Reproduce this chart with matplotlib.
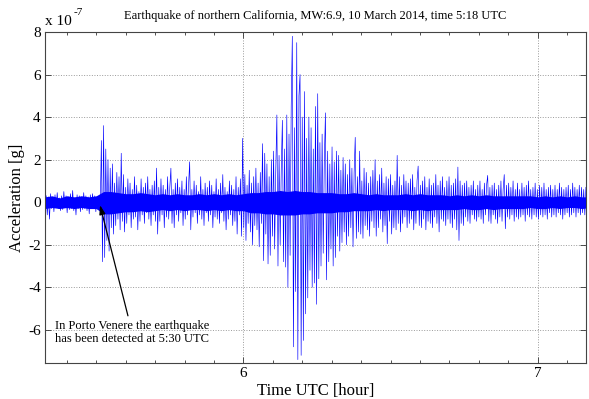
import numpy as np
import matplotlib
matplotlib.use("Agg")
import matplotlib.pyplot as plt
from matplotlib.ticker import MultipleLocator, FixedLocator

plt.rcParams['font.family'] = ['Liberation Serif', 'DejaVu Serif']

# ---- data (units of 1e-7 g) ----
t_start = 5.33       # hour UTC of first sample
t_step = 0.00375     # hours between samples

accel = [
    # quiet, before arrival
    0.3, -0.6, 0.25, -0.8, 0.4, -0.3, 0.2, -0.45, 0.35, -0.25,
    0.45, -0.3, 0.2, -0.4, 0.3, -0.35, 0.5, -0.25, 0.3, -0.5,
    0.25, -0.35, 0.4, -0.3, 0.55, -0.4, 0.2, -0.6, 0.35, -0.3,
    0.3, -0.45, 0.25, -0.35, 0.45, -0.3, 0.3, -0.4, 0.25, -0.55,
    0.35, -0.3, 0.4, -0.25, 0.3, -0.45, 0.25, -0.35, 0.3, -0.3,
    # first arrival (P)
    2.9, -2.8, 3.6, -2.6, 2.5, -1.8, 2.0, -2.3, 1.6, -1.2,
    1.8, -1.5, 0.9, -1.1, 1.4, -0.8, 1.2, -1.3, 2.3, -0.9,
    1.3, -1.4, 0.7, -1.0, 1.1, -0.6, 0.9, -1.2, 0.6, -0.8,
    1.2, -0.7, 0.8, -1.3, 0.5, -0.9, 1.1, -0.6, 0.7, -1.0,
    0.9, -0.5, 1.2, -0.8, 0.6, -1.1, 0.8, -0.6, 1.0, -0.9,
    1.6, -1.5, 0.7, -0.9, 1.1, -0.6, 0.8, -1.2, 0.6, -0.7,
    1.2, -0.8, 0.7, 1.6, -1.0, 0.6, -1.2, 0.9, -0.6, 1.1,
    -0.9, 0.7, -0.5, 1.0, -1.1, 0.6, -0.8, 1.2, -0.6, 0.8,
    1.9, -1.3, 0.6, -0.7, 1.0, -0.5, 0.8, -1.0, 0.5, -0.6,
    1.2, -0.8, 0.6, -1.1, 0.9, -0.5, 0.7, -0.9, 1.0, -0.6,
    0.8, -1.2, 0.5, -0.7, 1.1, -0.8, 0.6, -1.0, 0.9, -0.5,
    1.3, -0.9, 0.7, -1.3, 0.5, -0.8, 1.0, -0.6, 0.8, -1.1,
    0.6, -0.9, 1.2, -1.5, 0.7, -0.6, 1.1, -1.6, 3.0, -1.2,
    # surface waves
    1.3, -1.8, 0.8, -1.0, 1.5, -1.4, 0.9, -2.0, 1.2, -1.1,
    1.6, -1.3, 0.9, -2.1, 1.4, -1.0, 2.75, -2.75, 2.3, -1.5,
    1.8, -2.9, 1.2, -2.5, 2.0, -1.6, 2.4, -2.2, 1.5, 4.1,
    -3.0, 2.2, -2.0, 1.6, 3.85, -2.8, 2.5, -3.05, 4.1, -4.0,
    3.2, -2.5, 4.5, 7.8, -6.8, 3.5, -4.2, 7.5, -7.4, 5.0,
    6.0, -7.2, 4.0, -6.5, 5.2, -5.25, 3.0, -4.5, 4.0, -3.2,
    3.5, -4.0, 2.5, -3.8, 4.5, -4.8, 5.1, -3.6, 2.8, -3.0,
    3.2, -2.4, 2.0, 4.2, -3.65, 2.4, -2.8, 1.8, -2.2, 2.6,
    -3.0, 1.9, -2.6, 2.4, -1.6, 2.2, -2.3, 1.5, -1.9, 2.1,
    -1.4, 1.8, -2.0, 1.3, -1.6, 2.0, -1.2, 1.6, -2.1, 1.4,
    3.05, -1.7, 1.2, -1.4, 2.4, -1.5, 1.0, -1.7, 1.6, -1.1,
    1.4, -1.3, 0.9, -1.6, 1.2, -0.9, 1.5, -1.2, 2.0, -1.6,
    1.0, -1.2, 1.3, -0.8, 1.6, -1.4, 0.9, -1.1, 1.2, -1.95,
    1.1, -0.9, 1.3, -1.5, 0.8, -1.2, 1.0, -1.3, 2.2, -1.0,
    1.2, -1.4, 0.8, -1.0, 1.3, -0.7, 1.0, -1.2, 0.9, -1.0,
    1.1, -0.8, 1.3, -1.3, 0.7, -1.0, 1.0, 1.7, -1.1, 0.8,
    # coda
    -1.2, 1.0, -0.8, 1.2, -1.3, 0.7, -0.9, 1.1, -1.0, 0.8,
    -1.2, 0.9, -0.7, 1.3, -1.0, 0.8, -1.4, 1.0, -0.8, 1.2,
    -0.9, 0.7, -1.1, 1.0, -0.8, 1.2, -1.0, 0.8, -1.2, 0.9,
    -0.8, 1.1, -1.3, 1.65, -1.8, 1.0, -1.0, 0.8, -1.1, 0.9,
    -0.7, 1.0, -0.9, 0.7, -1.0, 0.8, -0.6, 1.0, -0.8, 0.6,
    -0.9, 0.8, -0.7, 1.0, -0.8, 0.6, -1.0, 0.9, -0.6, 0.8,
    1.26, -0.9, 0.7, -1.0, 0.8, -0.6, 0.9, -0.8, 0.6, -1.0,
    0.8, -0.7, 1.0, -0.9, 0.6, 1.3, -1.25, 0.8, -0.7, 0.9,
    -0.8, 0.7, -0.6, 1.0, -0.9, 0.6, -0.7, 0.9, -0.8, 0.6,
    -0.7, 0.9, -0.6, 0.7, -0.9, 0.8, -0.6, 1.0, -0.7, 0.6,
    -0.8, 0.7, -0.6, 0.9, -0.7, 0.6, -0.8, 0.8, -0.6, 0.7,
    -0.7, 0.9, -0.6, 0.6, -0.8, 0.7, -0.5, 0.8, -0.7, 0.6,
    -0.6, 0.8, -0.7, 0.6, -0.5, 0.9, -0.6, 0.7, -0.8, 0.6,
    -0.6, 0.7, -0.5, 0.8, -0.7, 0.6, -0.6, 0.9, -0.5, 0.7,
    -0.7, 0.6, -0.5, 0.8, -0.6, 0.7, -0.5, 0.6, -0.6, 0.7,
]

# dense (solid) band of the trace around zero: upper / lower limits
core_start = 5.325
core_step = 0.025
core_hi = [
    0.25, 0.3, 0.2, 0.3, 0.25,
    0.3, 0.25, 0.3, 0.5, 0.5,
    0.45, 0.4, 0.4, 0.45, 0.4,
    0.35, 0.4, 0.35, 0.4, 0.35,
    0.35, 0.4, 0.35, 0.4, 0.35,
    0.4, 0.35, 0.4, 0.45, 0.45,
    0.5, 0.5, 0.55, 0.5, 0.55,
    0.5, 0.5, 0.45, 0.45, 0.45,
    0.4, 0.4, 0.45, 0.4, 0.35,
    0.4, 0.35, 0.35, 0.35, 0.4,
    0.35, 0.4, 0.35, 0.35, 0.35,
    0.3, 0.35, 0.3, 0.35, 0.3,
    0.35, 0.3, 0.3, 0.3, 0.3,
    0.3, 0.3, 0.25, 0.3, 0.25,
    0.3, 0.25, 0.3, 0.25, 0.25,
]
core_lo = [
    -0.3, -0.25, -0.3, -0.25, -0.3,
    -0.25, -0.3, -0.3, -0.55, -0.55,
    -0.5, -0.45, -0.45, -0.4, -0.45,
    -0.4, -0.35, -0.4, -0.35, -0.4,
    -0.35, -0.35, -0.4, -0.35, -0.4,
    -0.35, -0.4, -0.4, -0.5, -0.5,
    -0.55, -0.55, -0.6, -0.6, -0.6,
    -0.55, -0.55, -0.5, -0.5, -0.5,
    -0.45, -0.45, -0.4, -0.4, -0.4,
    -0.35, -0.4, -0.35, -0.35, -0.35,
    -0.4, -0.35, -0.4, -0.35, -0.35,
    -0.35, -0.35, -0.3, -0.35, -0.35,
    -0.3, -0.35, -0.3, -0.3, -0.3,
    -0.3, -0.25, -0.3, -0.3, -0.25,
    -0.3, -0.25, -0.25, -0.3, -0.25,
]

title = "Earthquake of northern California, MW:6.9, 10 March 2014, time 5:18 UTC"
note = "In Porto Venere the earthquake\nhas been detected at 5:30 UTC"
arrival_t = 5.513
arrival_y = -0.14

xlim = (5.326, 7.164)
ylim = (-7.56, 8.0)
yticks = [-6, -4, -2, 0, 2, 4, 6, 8]
xticks = [6, 7]

# ---- figure ----
fig = plt.figure(figsize=(5.89, 3.99), dpi=100)
ax = fig.add_axes([0.0764, 0.0902, 0.9185, 0.8296])

t = t_start + t_step * np.arange(len(accel))
core_t = core_start + core_step * np.arange(len(core_hi))
ax.fill_between(core_t, core_lo, core_hi, color=(0, 0, 1), lw=0, zorder=2)
ax.plot(t, accel, color=(0, 0, 1), lw=0.45, zorder=3)

ax.set_xlim(*xlim)
ax.set_ylim(*ylim)
ax.xaxis.set_major_locator(FixedLocator(xticks))
ax.xaxis.set_minor_locator(MultipleLocator(0.1))
ax.yaxis.set_major_locator(FixedLocator(yticks))
ax.set_xticklabels([str(v) for v in xticks])
ax.set_yticklabels([str(v) for v in yticks])
ax.tick_params(which='both', direction='in', top=True, right=True,
               labelsize=11, width=0.6, color='#333333')
ax.tick_params(which='major', length=4, pad=3)
ax.tick_params(which='minor', length=2.5)
ax.grid(True, which='major', linestyle=':', color='#9a9a9a', lw=0.7)
ax.set_axisbelow(True)
for s in ax.spines.values():
    s.set_linewidth(0.8)
    s.set_color('#444444')

ax.set_title(title, fontsize=9, pad=9)
ax.set_xlabel("Time UTC [hour]", fontsize=12, labelpad=2)
ax.set_ylabel("Acceleration [g]", fontsize=12, labelpad=2)

ax.text(0.0, 1.012, "x 10", transform=ax.transAxes, fontsize=11,
        ha='left', va='bottom')
ax.text(0.052, 1.045, "-7", transform=ax.transAxes, fontsize=8,
        ha='left', va='bottom')

ax.annotate(note, xy=(arrival_t, arrival_y), xytext=(5.622, -6.12),
            fontsize=9, ha='center', va='center', multialignment='center',
            linespacing=1.1,
            arrowprops=dict(arrowstyle='-|>,head_length=0.6,head_width=0.2',
                            color='black', lw=0.9, shrinkA=1, shrinkB=0),
            zorder=5)

fig.savefig("out.png", dpi=100)
